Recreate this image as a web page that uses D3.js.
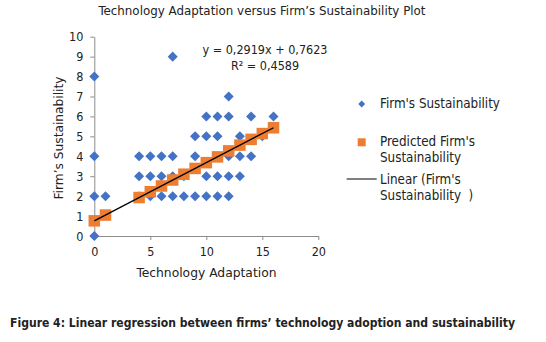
<!DOCTYPE html>
<html>
<head>
<meta charset="utf-8">
<script src="https://cdn.jsdelivr.net/npm/d3@7"></script>
<style>
  body { margin: 0; background: #fff; }
  svg text { font-family: "DejaVu Sans", sans-serif; font-stretch: condensed; fill: #222; }
</style>
</head>
<body>
<div id="chart"></div>
<script>
"use strict";

// observed points (technology adaptation, firm's sustainability)
var techAdapt = [0, 0, 0, 0, 1, 4, 4, 4, 5, 5, 5, 6, 6, 6, 7, 7, 7, 7, 8, 8,
                 9, 9, 9, 10, 10, 10, 10, 11, 11, 11, 11, 12, 12, 12, 12, 12,
                 13, 13, 13, 14, 14, 15, 16];
var firmSust  = [8, 4, 2, 0, 2, 4, 3, 2, 4, 3, 2, 4, 3, 2, 9, 4, 3, 2, 3, 2,
                 5, 4, 2, 6, 5, 3, 2, 6, 5, 3, 2, 7, 6, 4, 3, 2,
                 5, 4, 3, 6, 4, 5, 6];

// predicted values, one per distinct x
var predX = [0, 1, 4, 5, 6, 7, 8, 9, 10, 11, 12, 13, 14, 15, 16];
var predY = [0.76, 1.05, 1.93, 2.22, 2.51, 2.81, 3.10, 3.39, 3.68, 3.97, 4.27, 4.56, 4.85, 5.14, 5.43];

// trendline end points
var trendX = [0, 16];
var trendY = [0.7623, 5.433];

var xTicks = [0, 5, 10, 15, 20];
var yTicks = [0, 1, 2, 3, 4, 5, 6, 7, 8, 9, 10];

var blue = "#4472C4", orange = "#ED7D31";

var margin = { top: 36.7, left: 94.3 },
    width = 224,
    height = 199.3;

var svg = d3.select("#chart")
  .append("svg")
  .attr("width", 546)
  .attr("height", 342);

var g = svg.append("g")
  .attr("transform", "translate(" + margin.left + "," + margin.top + ")");

var x = d3.scaleLinear().domain([0, 20]).range([0, width]);
var y = d3.scaleLinear().domain([0, 10]).range([height, 0]);

// axes
var yAxis = g.append("g")
  .call(d3.axisLeft(y).tickValues(yTicks).tickSize(4).tickSizeOuter(0).tickPadding(7));
var xAxis = g.append("g")
  .attr("transform", "translate(0," + height + ")")
  .call(d3.axisBottom(x).tickValues(xTicks).tickSize(4).tickSizeOuter(0).tickPadding(7));

[xAxis, yAxis].forEach(function (a) {
  a.selectAll("path, line").attr("stroke", "#8c8c8c");
  a.selectAll("text").style("font-size", "12.5px").attr("fill", "#222");
});

// observed diamonds
var diamond = d3.symbol().type(d3.symbolDiamond2).size(64);
g.selectAll(".obs")
  .data(techAdapt)
  .enter()
  .append("path")
  .attr("class", "obs")
  .attr("d", diamond)
  .attr("fill", blue)
  .attr("transform", function (d, i) {
    return "translate(" + x(d) + "," + y(firmSust[i]) + ")";
  });

// predicted squares
var sq = 11.5;
g.selectAll(".pred")
  .data(predX)
  .enter()
  .append("rect")
  .attr("class", "pred")
  .attr("x", function (d) { return x(d) - sq / 2; })
  .attr("y", function (d, i) { return y(predY[i]) - sq / 2; })
  .attr("width", sq)
  .attr("height", sq)
  .attr("fill", orange);

// linear trendline
g.append("line")
  .attr("x1", x(trendX[0])).attr("y1", y(trendY[0]))
  .attr("x2", x(trendX[1])).attr("y2", y(trendY[1]))
  .attr("stroke", "#000")
  .attr("stroke-width", 1.3);

// equation
svg.append("text")
  .attr("x", 265).attr("y", 54)
  .attr("text-anchor", "middle")
  .attr("textLength", 125).attr("lengthAdjust", "spacingAndGlyphs")
  .style("font-size", "12.5px")
  .text("y = 0,2919x + 0,7623");
svg.append("text")
  .attr("x", 265).attr("y", 70)
  .attr("text-anchor", "middle")
  .style("font-size", "12.5px")
  .text("R² = 0,4589");

// titles
svg.append("text")
  .attr("x", 262).attr("y", 15)
  .attr("text-anchor", "middle")
  .attr("textLength", 327).attr("lengthAdjust", "spacingAndGlyphs")
  .style("font-size", "12.5px")
  .text("Technology Adaptation versus Firm\u2019s Sustainability Plot");

svg.append("text")
  .attr("x", 206.5).attr("y", 277)
  .attr("text-anchor", "middle")
  .attr("textLength", 140).attr("lengthAdjust", "spacingAndGlyphs")
  .style("font-size", "13px")
  .text("Technology Adaptation");

svg.append("text")
  .attr("transform", "translate(63,138) rotate(-90)")
  .attr("text-anchor", "middle")
  .attr("textLength", 123).attr("lengthAdjust", "spacingAndGlyphs")
  .style("font-size", "13px")
  .text("Firm\u2019s Sustainability");

// legend
var leg = svg.append("g").style("font-size", "13.3px");
leg.append("path")
  .attr("d", d3.symbol().type(d3.symbolDiamond2).size(30))
  .attr("fill", blue)
  .attr("transform", "translate(361.7,104)");
leg.append("text").attr("x", 380).attr("y", 108).text("Firm's Sustainability");

leg.append("rect")
  .attr("x", 357.7).attr("y", 138.3).attr("width", 8).attr("height", 8)
  .attr("fill", orange);
leg.append("text").attr("x", 380).attr("y", 146).text("Predicted Firm's");
leg.append("text").attr("x", 380).attr("y", 162).text("Sustainability");

leg.append("line")
  .attr("x1", 346.7).attr("x2", 376.7).attr("y1", 179).attr("y2", 179)
  .attr("stroke", "#000").attr("stroke-width", 1);
leg.append("text").attr("x", 380).attr("y", 184).text("Linear (Firm's");
leg.append("text").attr("x", 380).attr("y", 200).style("white-space", "pre").text("Sustainability  )");

// caption
svg.append("text")
  .attr("x", 10).attr("y", 327)
  .attr("textLength", 505).attr("lengthAdjust", "spacingAndGlyphs")
  .style("font-size", "12px")
  .style("font-weight", "bold")
  .attr("fill", "#000")
  .text("Figure 4: Linear regression between firms\u2019 technology adoption and sustainability");
</script>
</body>
</html>
